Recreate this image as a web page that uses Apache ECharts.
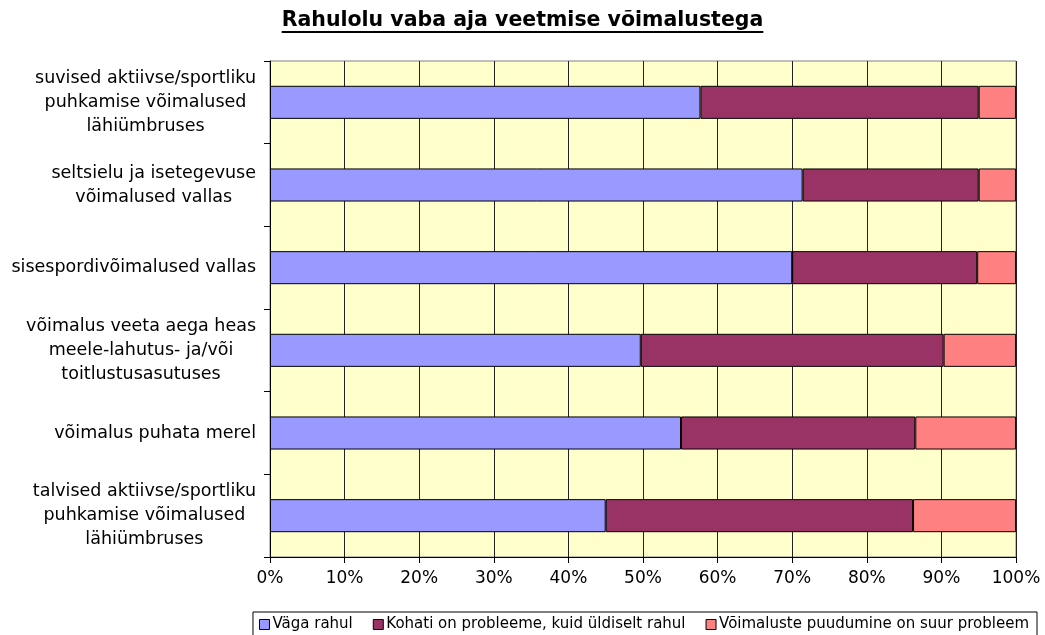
<!DOCTYPE html>
<html>
<head>
<meta charset="utf-8">
<script src="https://cdn.jsdelivr.net/npm/echarts@6/dist/echarts.min.js"></script>
<style>
  html, body { margin: 0; padding: 0; background: #fff; }
  #chart { width: 1045px; height: 635px; }
</style>
</head>
<body>
<div id="chart"></div>
<script>
// andmed (loetud graafikult, %)
const chartTitle = 'Rahulolu vaba aja veetmise võimalustega'
const categories = [
  'suvised aktiivse/sportliku\npuhkamise võimalused\nlähiümbruses',
  'seltsielu ja isetegevuse\nvõimalused vallas',
  'sisespordivõimalused vallas',
  'võimalus veeta aega heas\nmeele-lahutus- ja/või\ntoitlustusasutuses',
  'võimalus puhata merel',
  'talvised aktiivse/sportliku\npuhkamise võimalused\nlähiümbruses'
]
const seriesNames = ['Väga rahul', 'Kohati on probleeme, kuid üldiselt rahul', 'Võimaluste puudumine on suur probleem']
const vagaRahul = [57.7, 71.4, 70.0, 49.7, 55.1, 45.0]
const kohati = [37.3, 23.6, 24.8, 40.6, 31.4, 41.2]
const puudumine = [5.0, 5.0, 5.2, 9.7, 13.5, 13.8]
const xTicks = { min: 0, max: 100, step: 10 }

const font = '"DejaVu Sans", Verdana, sans-serif'
const colors = ['#9999FF', '#993366', '#FF8080']

// pealkirja allajoonimiseks mõõdame teksti laiuse
const ctx = document.createElement('canvas').getContext('2d')
ctx.font = 'bold 20.5px "DejaVu Sans"'
const titleW = ctx.measureText(chartTitle).width

const chart = echarts.init(document.getElementById('chart'), null, { renderer: 'canvas' })

const mkSeries = (name, data, i) => ({
  name: name,
  type: 'bar',
  stack: 'total',
  barWidth: '40%',
  data: data,
  itemStyle: { color: colors[i], borderColor: '#000', borderWidth: 1 },
  emphasis: { disabled: true }
})

chart.setOption({
  animation: false,
  backgroundColor: '#fff',
  title: {
    text: chartTitle,
    left: 'center',
    top: 10,
    padding: 0,
    textStyle: { fontFamily: font, fontSize: 20.5, fontWeight: 'bold', color: '#000' }
  },
  graphic: [{
    type: 'line',
    shape: { x1: 522.5 - titleW / 2, y1: 32, x2: 522.5 + titleW / 2, y2: 32 },
    style: { stroke: '#000', lineWidth: 2 }
  }],
  legend: {
    data: seriesNames,
    right: 8,
    top: 612,
    padding: [5, 8, 8, 6],
    itemGap: 20,
    itemWidth: 10,
    itemHeight: 10,
    icon: 'rect',
    borderColor: '#000',
    borderWidth: 1,
    borderRadius: 0,
    itemStyle: { borderColor: '#000', borderWidth: 1 },
    textStyle: { fontFamily: font, fontSize: 15, color: '#000', padding: [0, 0, 0, -2] }
  },
  grid: {
    left: 270,
    right: 29,
    top: 61,
    bottom: 78,
    show: true,
    backgroundColor: '#FFFFCC',
    borderColor: '#808080',
    borderWidth: 1
  },
  xAxis: {
    type: 'value',
    min: xTicks.min,
    max: xTicks.max,
    interval: xTicks.step,
    axisLine: { show: true, lineStyle: { color: '#000' } },
    axisTick: { show: true, length: 6, lineStyle: { color: '#000' } },
    axisLabel: { formatter: '{value}%', fontFamily: font, fontSize: 17, color: '#000', margin: 13 },
    splitLine: { show: true, lineStyle: { color: '#222', width: 1 } }
  },
  yAxis: {
    type: 'category',
    inverse: true,
    data: categories,
    axisLine: { show: true, lineStyle: { color: '#000' } },
    axisTick: { show: true, length: 6, lineStyle: { color: '#000' } },
    axisLabel: {
      margin: 14,
      formatter: v => v.split('\n').map(s => '{c|' + s + '}').join('\n'),
      rich: {
        c: { align: 'center', fontFamily: font, fontSize: 17.5, lineHeight: 24, color: '#000' }
      }
    },
    splitLine: { show: false }
  },
  series: [
    mkSeries(seriesNames[0], vagaRahul, 0),
    mkSeries(seriesNames[1], kohati, 1),
    mkSeries(seriesNames[2], puudumine, 2)
  ]
})
</script>
</body>
</html>
